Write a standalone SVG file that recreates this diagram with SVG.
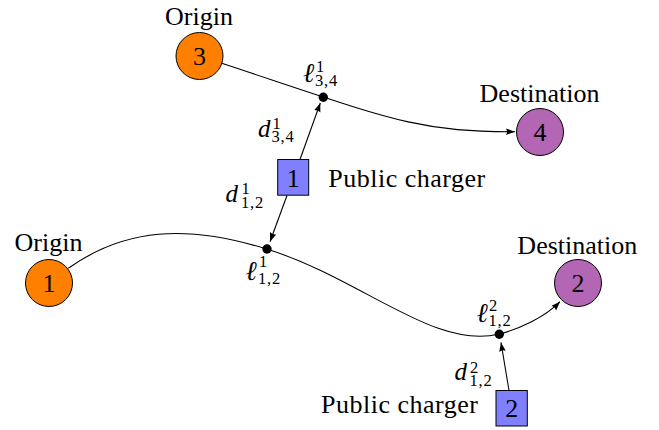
<svg xmlns="http://www.w3.org/2000/svg" width="659" height="430" viewBox="0 0 659 430">
<style>
  .txt { font-family: "Liberation Serif", "Times New Roman", serif; font-size: 26px; fill: #000; letter-spacing: 0.5px; }
  .num { font-family: "Liberation Serif", "Times New Roman", serif; font-size: 26px; fill: #000; text-anchor: middle; }
  .math { font-family: "Liberation Serif", "DejaVu Serif", serif; fill: #000; }
  .mi { font-size: 25px; font-style: italic; }
  .ell { font-size: 27px; font-style: italic; }
  .scr { font-size: 16.5px; font-style: normal; letter-spacing: 0.8px; }
  .origin { fill: #FF8000; stroke: #000; stroke-width: 1; }
  .dest { fill: #B366B3; stroke: #000; stroke-width: 1; }
  .charger { fill: #8080FF; stroke: #000; stroke-width: 1; }
  .edge { fill: none; stroke: #000; stroke-width: 1.1; }
  .dot { fill: #000; }
</style>
<defs>
  <marker id="arr" markerUnits="userSpaceOnUse" markerWidth="10" markerHeight="8" refX="9" refY="3.3" orient="auto">
    <path d="M0,0 L9,3.3 L0,6.6 Q2,3.3 0,0 z" fill="#000"/>
  </marker>
</defs>

<g id="connectors">
  <path class="edge" d="M221.8,63.3 C392,119.6 415,131.7 515,131.7" marker-end="url(#arr)"/>
  <path class="edge" d="M68.3,268.3 C125,228 186.7,224.2 266.7,249 C361.7,278.5 434.3,350.25 499.3,334 C519.3,329 545,317.2 560,301.7" marker-end="url(#arr)"/>
  <path class="edge" d="M300,159.5 L320.3,103" marker-end="url(#arr)"/>
  <path class="edge" d="M287,195.5 L270,241.7" marker-end="url(#arr)"/>
  <path class="edge" d="M509,390.5 L501,342.5" marker-end="url(#arr)"/>
</g>

<g id="origin3">
  <circle class="origin" cx="199.5" cy="56" r="23.5"/>
  <text class="num" x="199.5" y="65">3</text>
  <text class="num" x="199" y="25">Origin</text>
</g>
<g id="dest4">
  <circle class="dest" cx="540" cy="132" r="23.5"/>
  <text class="num" x="540" y="141">4</text>
  <text class="num" x="539.5" y="102.3">Destination</text>
</g>
<g id="origin1">
  <circle class="origin" cx="49" cy="283" r="23.5"/>
  <text class="num" x="49" y="292">1</text>
  <text class="num" x="48.5" y="250.7">Origin</text>
</g>
<g id="dest2">
  <circle class="dest" cx="578" cy="283" r="23.5"/>
  <text class="num" x="578" y="292">2</text>
  <text class="num" x="577.3" y="254">Destination</text>
</g>
<g id="charger1">
  <rect class="charger" x="277.7" y="159.5" width="31" height="35.7"/>
  <text class="num" x="293.2" y="186.5">1</text>
  <text class="txt" x="328.3" y="186.5">Public charger</text>
</g>
<g id="charger2">
  <rect class="charger" x="496" y="390.5" width="31.3" height="35.5"/>
  <text class="num" x="511.7" y="416.5">2</text>
  <text class="txt" x="321" y="413">Public charger</text>
</g>

<g id="point-l34">
  <circle class="dot" cx="323.3" cy="97.3" r="4.7"/>
  <text class="math"><tspan class="ell" x="303" y="81.7">ℓ</tspan><tspan class="scr" x="316" y="71.5">1</tspan><tspan class="scr" x="315" y="86">3,4</tspan></text>
</g>
<g id="label-d34">
  <text class="math"><tspan class="mi" x="258" y="136.5">d</tspan><tspan class="scr" x="272.5" y="129">1</tspan><tspan class="scr" x="271.5" y="142.3">3,4</tspan></text>
</g>
<g id="label-d12-1">
  <text class="math"><tspan class="mi" x="225.5" y="201.7">d</tspan><tspan class="scr" x="241.5" y="194">1</tspan><tspan class="scr" x="241" y="208.3">1,2</tspan></text>
</g>
<g id="point-l12-1">
  <circle class="dot" cx="267" cy="249" r="4.7"/>
  <text class="math"><tspan class="ell" x="245.5" y="279.5">ℓ</tspan><tspan class="scr" x="259" y="267.3">1</tspan><tspan class="scr" x="258" y="283.5">1,2</tspan></text>
</g>
<g id="point-l12-2">
  <circle class="dot" cx="499.3" cy="334.2" r="4.7"/>
  <text class="math"><tspan class="ell" x="476.5" y="322">ℓ</tspan><tspan class="scr" x="489" y="311">2</tspan><tspan class="scr" x="488.5" y="326">1,2</tspan></text>
</g>
<g id="label-d12-2">
  <text class="math"><tspan class="mi" x="454.5" y="380">d</tspan><tspan class="scr" x="470" y="373">2</tspan><tspan class="scr" x="469.5" y="386">1,2</tspan></text>
</g>
</svg>
